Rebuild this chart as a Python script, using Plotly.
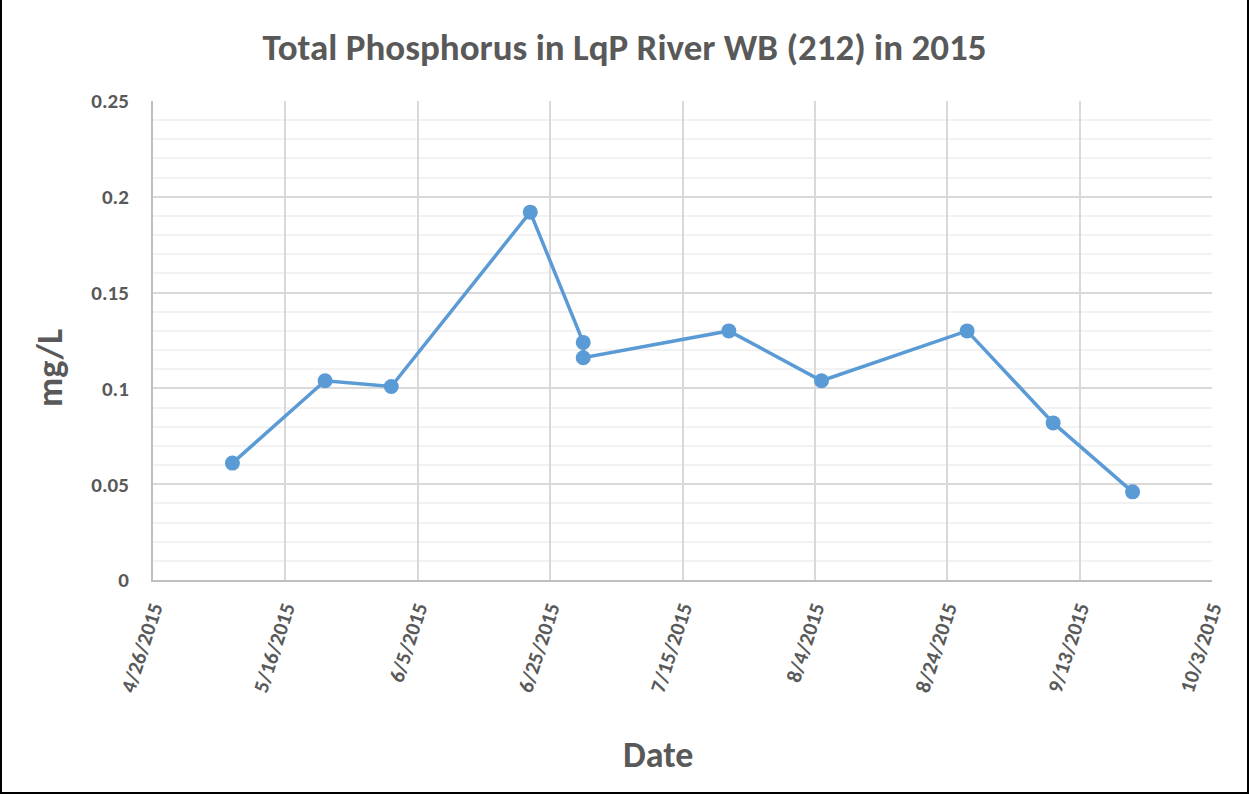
import plotly.graph_objects as go

dates = ["2015-05-08", "2015-05-22", "2015-06-01", "2015-06-22", "2015-06-30",
         "2015-06-30", "2015-07-22", "2015-08-05", "2015-08-27", "2015-09-09", "2015-09-21"]
values = [0.061, 0.104, 0.101, 0.192, 0.124, 0.116, 0.130, 0.104, 0.130, 0.082, 0.046]

title_text = "Total Phosphorus in LqP River WB (212) in 2015"
x_title = "Date"
y_title = "mg/L"

FONT = "Carlito, Calibri, Lato, sans-serif"
GRAY = "#595959"

W, H = 1249, 794
L, R, T, B = 153, 37, 101, 214
pw, ph = W - L - R, H - T - B

fig = go.Figure()
fig.add_trace(go.Scatter(
    x=dates, y=values, mode="lines+markers",
    line=dict(color="#5b9bd5", width=3.5),
    marker=dict(color="#5b9bd5", size=15),
    showlegend=False,
))

fig.update_layout(
    width=W, height=H,
    margin=dict(l=L, r=R, t=T, b=B),
    paper_bgcolor="white", plot_bgcolor="white",
    title=dict(text=title_text, x=0.5, xref="container", xanchor="center",
               y=1 - 47 / H, yanchor="middle",
               font=dict(family=FONT, size=37, color=GRAY, weight="bold")),
    xaxis=dict(
        type="date",
        range=["2015-04-26", "2015-10-03"],
        tick0="2015-04-26", dtick=20 * 86400000,
        tickformat="%-m/%-d/%Y",
        tickangle=-72,
        tickfont=dict(family=FONT, size=21, color=GRAY, weight="bold"),
        showgrid=True, gridcolor="#d9d9d9", gridwidth=2,
        showline=True, linecolor="#bfbfbf", linewidth=2,
        zeroline=False,
        ticklabelstandoff=6,
    ),
    yaxis=dict(
        range=[0, 0.25],
        tickvals=[0, 0.05, 0.1, 0.15, 0.2, 0.25],
        ticktext=["0", "0.05", "0.1", "0.15", "0.2", "0.25"],
        tickfont=dict(family=FONT, size=21, color=GRAY, weight="bold"),
        showgrid=True, gridcolor="#d9d9d9", gridwidth=2,
        minor=dict(dtick=0.01, showgrid=True, gridcolor="#f2f2f2", gridwidth=2),
        showline=True, linecolor="#bfbfbf", linewidth=2,
        zeroline=False,
        ticklabelstandoff=18,
    ),
)

# axis titles placed as annotations (pixel positions converted to paper coords)
fig.add_annotation(text=x_title, xref="paper", yref="paper",
                   x=(658 - L) / pw, y=(H - B - 755) / ph,
                   xanchor="center", yanchor="middle", showarrow=False,
                   font=dict(family=FONT, size=36, color=GRAY, weight="bold"))
fig.add_annotation(text=y_title, xref="paper", yref="paper",
                   x=(50 - L) / pw, y=(H - B - 368) / ph,
                   xanchor="center", yanchor="middle", showarrow=False, textangle=-90,
                   font=dict(family=FONT, size=36, color=GRAY, weight="bold"))

# outer border around the whole figure
fig.add_shape(type="rect", xref="paper", yref="paper",
              x0=(-L + 1) / pw, x1=(W - L - 1) / pw,
              y0=(-B + 1) / ph, y1=(H - T - 1) / ph,
              line=dict(color="black", width=2), fillcolor="rgba(0,0,0,0)", layer="above")

fig.write_html("out.html", config={"displayModeBar": False},
               post_script="document.body.style.margin='0';document.body.style.overflow='hidden';")
